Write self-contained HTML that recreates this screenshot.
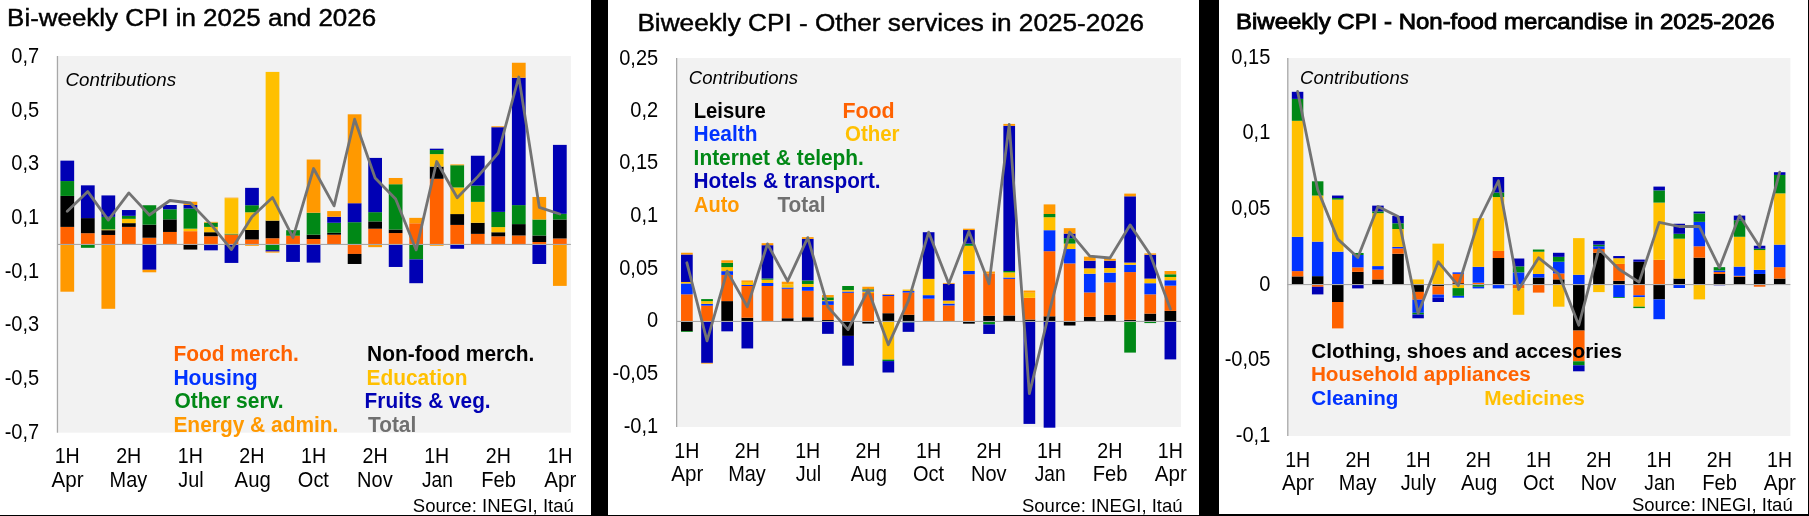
<!DOCTYPE html>
<html><head><meta charset="utf-8"><title>CPI charts</title>
<style>html,body{margin:0;padding:0;background:#fff;}svg{display:block;font-family:"Liberation Sans",sans-serif;}text{white-space:pre;}</style></head><body>
<svg width="1809" height="516" viewBox="0 0 1809 516">
<rect x="0" y="0" width="1809" height="516" fill="#fff"/>
<rect x="57" y="56" width="513.9" height="376.7" fill="#F2F2F2"/>
<rect x="676.1" y="58" width="504.9" height="369" fill="#F2F2F2"/>
<rect x="1287.1" y="58" width="503.3" height="378" fill="#F2F2F2"/>
<g>
<rect x="60.41" y="226.9" width="13.75" height="17.4" fill="#FF6200"/>
<rect x="60.41" y="195.92" width="13.75" height="30.98" fill="#000000"/>
<rect x="60.41" y="181.06" width="13.75" height="14.86" fill="#008816"/>
<rect x="60.41" y="160.65" width="13.75" height="20.4" fill="#0000B4"/>
<rect x="60.41" y="244.3" width="13.75" height="47.4" fill="#FF9900"/>
<rect x="80.93" y="233.2" width="13.75" height="11.1" fill="#FF6200"/>
<rect x="80.93" y="218.09" width="13.75" height="15.11" fill="#000000"/>
<rect x="80.93" y="185.34" width="13.75" height="32.75" fill="#0000B4"/>
<rect x="80.93" y="244.3" width="13.75" height="3.51" fill="#008816"/>
<rect x="101.45" y="234.96" width="13.75" height="9.34" fill="#FF6200"/>
<rect x="101.45" y="230.18" width="13.75" height="4.79" fill="#000000"/>
<rect x="101.45" y="229.42" width="13.75" height="0.76" fill="#FFC000"/>
<rect x="101.45" y="216.83" width="13.75" height="12.59" fill="#008816"/>
<rect x="101.45" y="195.42" width="13.75" height="21.41" fill="#0000B4"/>
<rect x="101.45" y="244.3" width="13.75" height="64.5" fill="#FF9900"/>
<rect x="121.97" y="226.9" width="13.75" height="17.4" fill="#FF6200"/>
<rect x="121.97" y="223.12" width="13.75" height="3.78" fill="#000000"/>
<rect x="121.97" y="218.84" width="13.75" height="4.28" fill="#FFC000"/>
<rect x="121.97" y="215.82" width="13.75" height="3.02" fill="#008816"/>
<rect x="121.97" y="210.03" width="13.75" height="5.79" fill="#0000B4"/>
<rect x="142.5" y="237.73" width="13.75" height="6.57" fill="#FF6200"/>
<rect x="142.5" y="224.63" width="13.75" height="13.1" fill="#000000"/>
<rect x="142.5" y="205.24" width="13.75" height="19.4" fill="#008816"/>
<rect x="142.5" y="244.3" width="13.75" height="25.5" fill="#0000B4"/>
<rect x="142.5" y="269.8" width="13.75" height="2.5" fill="#FF9900"/>
<rect x="163.02" y="231.94" width="13.75" height="12.36" fill="#FF6200"/>
<rect x="163.02" y="219.35" width="13.75" height="12.59" fill="#000000"/>
<rect x="163.02" y="209.27" width="13.75" height="10.08" fill="#008816"/>
<rect x="163.02" y="204.99" width="13.75" height="4.28" fill="#0000B4"/>
<rect x="183.54" y="231.18" width="13.75" height="13.12" fill="#FF6200"/>
<rect x="183.54" y="228.66" width="13.75" height="2.52" fill="#FFC000"/>
<rect x="183.54" y="208.51" width="13.75" height="20.15" fill="#008816"/>
<rect x="183.54" y="204.99" width="13.75" height="3.53" fill="#0000B4"/>
<rect x="183.54" y="201.71" width="13.75" height="3.27" fill="#FF9900"/>
<rect x="183.54" y="244.3" width="13.75" height="5.27" fill="#000000"/>
<rect x="204.07" y="236.22" width="13.75" height="8.08" fill="#FF6200"/>
<rect x="204.07" y="232.19" width="13.75" height="4.03" fill="#000000"/>
<rect x="204.07" y="226.9" width="13.75" height="5.29" fill="#FFC000"/>
<rect x="204.07" y="222.62" width="13.75" height="4.28" fill="#008816"/>
<rect x="204.07" y="221.86" width="13.75" height="0.76" fill="#FF9900"/>
<rect x="204.07" y="244.3" width="13.75" height="6.03" fill="#0000B4"/>
<rect x="224.59" y="234.46" width="13.75" height="9.84" fill="#FF6200"/>
<rect x="224.59" y="233.7" width="13.75" height="0.76" fill="#008816"/>
<rect x="224.59" y="198.19" width="13.75" height="35.52" fill="#FFC000"/>
<rect x="224.59" y="197.68" width="13.75" height="0.5" fill="#FF9900"/>
<rect x="224.59" y="244.3" width="13.75" height="18.62" fill="#0000B4"/>
<rect x="245.11" y="239.5" width="13.75" height="4.8" fill="#FF6200"/>
<rect x="245.11" y="229.92" width="13.75" height="9.57" fill="#000000"/>
<rect x="245.11" y="212.29" width="13.75" height="17.63" fill="#FFC000"/>
<rect x="245.11" y="205.24" width="13.75" height="7.05" fill="#008816"/>
<rect x="245.11" y="187.86" width="13.75" height="17.38" fill="#0000B4"/>
<rect x="245.11" y="244.3" width="13.75" height="1.49" fill="#FF9900"/>
<rect x="265.63" y="238.24" width="13.75" height="6.06" fill="#FF6200"/>
<rect x="265.63" y="220.6" width="13.75" height="17.63" fill="#000000"/>
<rect x="265.63" y="71.9" width="13.75" height="148.7" fill="#FFC000"/>
<rect x="265.63" y="244.3" width="13.75" height="5.78" fill="#008816"/>
<rect x="265.63" y="250.08" width="13.75" height="1.51" fill="#0000B4"/>
<rect x="265.63" y="251.59" width="13.75" height="1.01" fill="#FF9900"/>
<rect x="286.16" y="235.72" width="13.75" height="8.58" fill="#FF6200"/>
<rect x="286.16" y="230.18" width="13.75" height="5.54" fill="#008816"/>
<rect x="286.16" y="244.3" width="13.75" height="17.61" fill="#0000B4"/>
<rect x="306.68" y="239.02" width="13.75" height="5.28" fill="#FF6200"/>
<rect x="306.68" y="234.68" width="13.75" height="4.34" fill="#000000"/>
<rect x="306.68" y="212.71" width="13.75" height="21.98" fill="#008816"/>
<rect x="306.68" y="159.53" width="13.75" height="53.17" fill="#FF9900"/>
<rect x="306.68" y="244.3" width="13.75" height="18.33" fill="#0000B4"/>
<rect x="327.2" y="234.68" width="13.75" height="9.62" fill="#FF6200"/>
<rect x="327.2" y="232.78" width="13.75" height="1.9" fill="#000000"/>
<rect x="327.2" y="222.75" width="13.75" height="10.04" fill="#008816"/>
<rect x="327.2" y="216.78" width="13.75" height="5.97" fill="#0000B4"/>
<rect x="327.2" y="211.08" width="13.75" height="5.7" fill="#FF9900"/>
<rect x="347.73" y="222.2" width="13.75" height="22.1" fill="#008816"/>
<rect x="347.73" y="203.21" width="13.75" height="18.99" fill="#0000B4"/>
<rect x="347.73" y="114.3" width="13.75" height="88.91" fill="#FF9900"/>
<rect x="347.73" y="244.3" width="13.75" height="9.64" fill="#FF6200"/>
<rect x="347.73" y="253.94" width="13.75" height="10.04" fill="#000000"/>
<rect x="368.25" y="228.71" width="13.75" height="15.59" fill="#FF6200"/>
<rect x="368.25" y="221.39" width="13.75" height="7.33" fill="#000000"/>
<rect x="368.25" y="212.16" width="13.75" height="9.22" fill="#008816"/>
<rect x="368.25" y="157.91" width="13.75" height="54.26" fill="#0000B4"/>
<rect x="368.25" y="244.3" width="13.75" height="2.86" fill="#FF9900"/>
<rect x="388.77" y="233.05" width="13.75" height="11.25" fill="#FF6200"/>
<rect x="388.77" y="229.53" width="13.75" height="3.53" fill="#000000"/>
<rect x="388.77" y="184.22" width="13.75" height="45.31" fill="#008816"/>
<rect x="388.77" y="177.98" width="13.75" height="6.24" fill="#FF9900"/>
<rect x="388.77" y="244.3" width="13.75" height="22.67" fill="#0000B4"/>
<rect x="409.3" y="223.29" width="13.75" height="21.01" fill="#FF6200"/>
<rect x="409.3" y="217.86" width="13.75" height="5.43" fill="#FF9900"/>
<rect x="409.3" y="244.3" width="13.75" height="15.07" fill="#008816"/>
<rect x="409.3" y="259.37" width="13.75" height="23.83" fill="#0000B4"/>
<rect x="429.82" y="178.8" width="13.75" height="65.5" fill="#FF6200"/>
<rect x="429.82" y="166.59" width="13.75" height="12.21" fill="#000000"/>
<rect x="429.82" y="154.11" width="13.75" height="12.48" fill="#FFC000"/>
<rect x="429.82" y="150.04" width="13.75" height="4.07" fill="#008816"/>
<rect x="429.82" y="148.68" width="13.75" height="1.36" fill="#0000B4"/>
<rect x="429.82" y="244.3" width="13.75" height="1.51" fill="#FF9900"/>
<rect x="450.34" y="224.92" width="13.75" height="19.38" fill="#FF6200"/>
<rect x="450.34" y="214.06" width="13.75" height="10.85" fill="#000000"/>
<rect x="450.34" y="187.48" width="13.75" height="26.59" fill="#FFC000"/>
<rect x="450.34" y="165.23" width="13.75" height="22.25" fill="#008816"/>
<rect x="450.34" y="164.42" width="13.75" height="0.81" fill="#FF9900"/>
<rect x="450.34" y="244.3" width="13.75" height="4.49" fill="#0000B4"/>
<rect x="470.87" y="233.87" width="13.75" height="10.43" fill="#FF6200"/>
<rect x="470.87" y="222.75" width="13.75" height="11.12" fill="#000000"/>
<rect x="470.87" y="201.86" width="13.75" height="20.89" fill="#FFC000"/>
<rect x="470.87" y="185.58" width="13.75" height="16.28" fill="#008816"/>
<rect x="470.87" y="155.74" width="13.75" height="29.84" fill="#0000B4"/>
<rect x="491.39" y="236.31" width="13.75" height="7.99" fill="#FF6200"/>
<rect x="491.39" y="232.24" width="13.75" height="4.07" fill="#000000"/>
<rect x="491.39" y="227.09" width="13.75" height="5.15" fill="#FFC000"/>
<rect x="491.39" y="211.89" width="13.75" height="15.19" fill="#008816"/>
<rect x="491.39" y="127.2" width="13.75" height="84.69" fill="#0000B4"/>
<rect x="491.39" y="126.3" width="13.75" height="0.9" fill="#FF9900"/>
<rect x="511.91" y="235.5" width="13.75" height="8.8" fill="#FF6200"/>
<rect x="511.91" y="224.1" width="13.75" height="11.39" fill="#000000"/>
<rect x="511.91" y="205.11" width="13.75" height="18.99" fill="#008816"/>
<rect x="511.91" y="77.7" width="13.75" height="127.41" fill="#0000B4"/>
<rect x="511.91" y="62.75" width="13.75" height="14.95" fill="#FF9900"/>
<rect x="532.43" y="242.01" width="13.75" height="2.29" fill="#FF6200"/>
<rect x="532.43" y="235.5" width="13.75" height="6.51" fill="#000000"/>
<rect x="532.43" y="219.49" width="13.75" height="16.01" fill="#008816"/>
<rect x="532.43" y="196.97" width="13.75" height="22.52" fill="#FF9900"/>
<rect x="532.43" y="244.3" width="13.75" height="19.68" fill="#0000B4"/>
<rect x="552.96" y="238.48" width="13.75" height="5.82" fill="#FF6200"/>
<rect x="552.96" y="219.49" width="13.75" height="18.99" fill="#000000"/>
<rect x="552.96" y="213.79" width="13.75" height="5.7" fill="#008816"/>
<rect x="552.96" y="144.88" width="13.75" height="68.91" fill="#0000B4"/>
<rect x="552.96" y="244.3" width="13.75" height="41.6" fill="#FF9900"/>
</g>
<rect x="57" y="243.9" width="513.9" height="1.1" fill="#A8A8A8"/>
<rect x="56.8" y="56" width="1.3" height="376.7" fill="#A8A8A8"/>
<polyline points="67.28,211.3 87.8,191.6 108.33,220.1 128.85,192.9 149.37,215 169.89,200.5 190.42,203 210.94,224.4 231.46,249.6 251.99,216.8 272.51,197.4 293.03,237.7 313.56,168.5 334.08,205.9 354.6,119.2 375.12,178 395.65,199.1 416.17,249.9 436.69,161.5 457.22,197.8 477.74,176.6 498.26,153 518.79,77 539.31,207.3 559.83,214" fill="none" stroke="#737373" stroke-width="2.8" stroke-linejoin="round" stroke-linecap="round"/>
<g>
<rect x="681.03" y="294.31" width="11.7" height="26.99" fill="#FF6200"/>
<rect x="681.03" y="283.48" width="11.7" height="10.83" fill="#0033FF"/>
<rect x="681.03" y="281.96" width="11.7" height="1.51" fill="#FFC000"/>
<rect x="681.03" y="254.51" width="11.7" height="27.46" fill="#0000B4"/>
<rect x="681.03" y="252.75" width="11.7" height="1.76" fill="#FF9900"/>
<rect x="681.03" y="321.3" width="11.7" height="9.9" fill="#000000"/>
<rect x="681.03" y="331.2" width="11.7" height="0.8" fill="#008816"/>
<rect x="701.18" y="305.64" width="11.7" height="15.66" fill="#FF6200"/>
<rect x="701.18" y="303.88" width="11.7" height="1.76" fill="#0033FF"/>
<rect x="701.18" y="301.11" width="11.7" height="2.77" fill="#FFC000"/>
<rect x="701.18" y="299.09" width="11.7" height="2.02" fill="#008816"/>
<rect x="701.18" y="321.3" width="11.7" height="41.6" fill="#0000B4"/>
<rect x="701.18" y="362.9" width="11.7" height="0.7" fill="#FF9900"/>
<rect x="721.32" y="301.11" width="11.7" height="20.19" fill="#000000"/>
<rect x="721.32" y="274.91" width="11.7" height="26.2" fill="#FF6200"/>
<rect x="721.32" y="271.13" width="11.7" height="3.78" fill="#0033FF"/>
<rect x="721.32" y="267.1" width="11.7" height="4.03" fill="#FFC000"/>
<rect x="721.32" y="262.82" width="11.7" height="4.28" fill="#008816"/>
<rect x="721.32" y="260.3" width="11.7" height="2.52" fill="#FF9900"/>
<rect x="721.32" y="321.3" width="11.7" height="10.04" fill="#0000B4"/>
<rect x="741.47" y="317.73" width="11.7" height="3.57" fill="#000000"/>
<rect x="741.47" y="285.99" width="11.7" height="31.74" fill="#FF6200"/>
<rect x="741.47" y="284.99" width="11.7" height="1.01" fill="#0033FF"/>
<rect x="741.47" y="281.96" width="11.7" height="3.02" fill="#FFC000"/>
<rect x="741.47" y="280.45" width="11.7" height="1.51" fill="#FF9900"/>
<rect x="741.47" y="321.3" width="11.7" height="27.16" fill="#0000B4"/>
<rect x="761.61" y="285.99" width="11.7" height="35.31" fill="#FF6200"/>
<rect x="761.61" y="282.97" width="11.7" height="3.02" fill="#0033FF"/>
<rect x="761.61" y="279.7" width="11.7" height="3.27" fill="#FFC000"/>
<rect x="761.61" y="278.44" width="11.7" height="1.26" fill="#008816"/>
<rect x="761.61" y="245.19" width="11.7" height="33.25" fill="#0000B4"/>
<rect x="761.61" y="243.17" width="11.7" height="2.02" fill="#FF9900"/>
<rect x="781.76" y="318.24" width="11.7" height="3.06" fill="#000000"/>
<rect x="781.76" y="288.77" width="11.7" height="29.47" fill="#FF6200"/>
<rect x="781.76" y="287.51" width="11.7" height="1.26" fill="#0033FF"/>
<rect x="781.76" y="284.23" width="11.7" height="3.27" fill="#FFC000"/>
<rect x="781.76" y="281.71" width="11.7" height="2.52" fill="#FF9900"/>
<rect x="801.91" y="317.23" width="11.7" height="4.07" fill="#000000"/>
<rect x="801.91" y="290.78" width="11.7" height="26.45" fill="#FF6200"/>
<rect x="801.91" y="287" width="11.7" height="3.78" fill="#0033FF"/>
<rect x="801.91" y="283.98" width="11.7" height="3.02" fill="#FFC000"/>
<rect x="801.91" y="280.45" width="11.7" height="3.53" fill="#008816"/>
<rect x="801.91" y="238.89" width="11.7" height="41.56" fill="#0000B4"/>
<rect x="801.91" y="237.13" width="11.7" height="1.76" fill="#FF9900"/>
<rect x="822.05" y="320" width="11.7" height="1.3" fill="#000000"/>
<rect x="822.05" y="304.89" width="11.7" height="15.11" fill="#FF6200"/>
<rect x="822.05" y="301.11" width="11.7" height="3.78" fill="#0033FF"/>
<rect x="822.05" y="300.1" width="11.7" height="1.01" fill="#FFC000"/>
<rect x="822.05" y="297.33" width="11.7" height="2.77" fill="#008816"/>
<rect x="822.05" y="295.06" width="11.7" height="2.27" fill="#FF9900"/>
<rect x="822.05" y="321.3" width="11.7" height="12.55" fill="#0000B4"/>
<rect x="842.2" y="292.8" width="11.7" height="28.5" fill="#FF6200"/>
<rect x="842.2" y="291.54" width="11.7" height="1.26" fill="#0033FF"/>
<rect x="842.2" y="290.03" width="11.7" height="1.51" fill="#FFC000"/>
<rect x="842.2" y="285.99" width="11.7" height="4.03" fill="#008816"/>
<rect x="842.2" y="321.3" width="11.7" height="14.6" fill="#000000"/>
<rect x="842.2" y="335.9" width="11.7" height="29.8" fill="#0000B4"/>
<rect x="862.34" y="293.05" width="11.7" height="28.25" fill="#FF6200"/>
<rect x="862.34" y="291.54" width="11.7" height="1.51" fill="#FFC000"/>
<rect x="862.34" y="290.53" width="11.7" height="1.01" fill="#0033FF"/>
<rect x="862.34" y="289.27" width="11.7" height="1.26" fill="#008816"/>
<rect x="862.34" y="286.75" width="11.7" height="2.52" fill="#FF9900"/>
<rect x="862.34" y="321.3" width="11.7" height="2.23" fill="#000000"/>
<rect x="882.49" y="313.2" width="11.7" height="8.1" fill="#000000"/>
<rect x="882.49" y="296.07" width="11.7" height="17.13" fill="#FF6200"/>
<rect x="882.49" y="294.81" width="11.7" height="1.26" fill="#0033FF"/>
<rect x="882.49" y="294.06" width="11.7" height="0.76" fill="#FF9900"/>
<rect x="882.49" y="321.3" width="11.7" height="38.3" fill="#FFC000"/>
<rect x="882.49" y="359.6" width="11.7" height="1.5" fill="#008816"/>
<rect x="882.49" y="361.1" width="11.7" height="11.4" fill="#0000B4"/>
<rect x="902.64" y="314.71" width="11.7" height="6.59" fill="#000000"/>
<rect x="902.64" y="292.54" width="11.7" height="22.17" fill="#FF6200"/>
<rect x="902.64" y="291.03" width="11.7" height="1.51" fill="#0033FF"/>
<rect x="902.64" y="289.52" width="11.7" height="1.51" fill="#FFC000"/>
<rect x="902.64" y="321.3" width="11.7" height="1.22" fill="#008816"/>
<rect x="902.64" y="322.52" width="11.7" height="9.32" fill="#0000B4"/>
<rect x="922.78" y="298.68" width="11.7" height="22.62" fill="#FF6200"/>
<rect x="922.78" y="295.15" width="11.7" height="3.53" fill="#0033FF"/>
<rect x="922.78" y="278.87" width="11.7" height="16.28" fill="#FFC000"/>
<rect x="922.78" y="232.21" width="11.7" height="46.66" fill="#0000B4"/>
<rect x="942.93" y="305.46" width="11.7" height="15.84" fill="#FF6200"/>
<rect x="942.93" y="303.56" width="11.7" height="1.9" fill="#0033FF"/>
<rect x="942.93" y="300.58" width="11.7" height="2.98" fill="#FFC000"/>
<rect x="942.93" y="283.75" width="11.7" height="16.82" fill="#0000B4"/>
<rect x="942.93" y="282.94" width="11.7" height="0.81" fill="#FF9900"/>
<rect x="963.07" y="274.26" width="11.7" height="47.04" fill="#FF6200"/>
<rect x="963.07" y="271" width="11.7" height="3.26" fill="#0033FF"/>
<rect x="963.07" y="245.77" width="11.7" height="25.23" fill="#FFC000"/>
<rect x="963.07" y="243.6" width="11.7" height="2.17" fill="#008816"/>
<rect x="963.07" y="230.04" width="11.7" height="13.56" fill="#0000B4"/>
<rect x="963.07" y="228.68" width="11.7" height="1.36" fill="#FF9900"/>
<rect x="963.07" y="321.3" width="11.7" height="2.34" fill="#000000"/>
<rect x="983.22" y="315.77" width="11.7" height="5.53" fill="#000000"/>
<rect x="983.22" y="273.45" width="11.7" height="42.32" fill="#FF6200"/>
<rect x="983.22" y="271.55" width="11.7" height="1.9" fill="#FF9900"/>
<rect x="983.22" y="321.3" width="11.7" height="3.15" fill="#008816"/>
<rect x="983.22" y="324.45" width="11.7" height="9.5" fill="#0000B4"/>
<rect x="1003.37" y="315.5" width="11.7" height="5.8" fill="#000000"/>
<rect x="1003.37" y="278.87" width="11.7" height="36.63" fill="#FF6200"/>
<rect x="1003.37" y="277.51" width="11.7" height="1.36" fill="#0033FF"/>
<rect x="1003.37" y="272.36" width="11.7" height="5.15" fill="#FFC000"/>
<rect x="1003.37" y="271" width="11.7" height="1.36" fill="#008816"/>
<rect x="1003.37" y="125.8" width="11.7" height="145.2" fill="#0000B4"/>
<rect x="1003.37" y="123.9" width="11.7" height="1.9" fill="#FF9900"/>
<rect x="1023.51" y="319.57" width="11.7" height="1.73" fill="#000000"/>
<rect x="1023.51" y="297.86" width="11.7" height="21.7" fill="#FF6200"/>
<rect x="1023.51" y="292.71" width="11.7" height="5.15" fill="#FFC000"/>
<rect x="1023.51" y="290.54" width="11.7" height="2.17" fill="#FF9900"/>
<rect x="1023.51" y="321.3" width="11.7" height="102.6" fill="#0000B4"/>
<rect x="1043.66" y="316.31" width="11.7" height="4.99" fill="#000000"/>
<rect x="1043.66" y="251.2" width="11.7" height="65.11" fill="#FF6200"/>
<rect x="1043.66" y="230.2" width="11.7" height="21" fill="#0033FF"/>
<rect x="1043.66" y="217.2" width="11.7" height="13" fill="#FFC000"/>
<rect x="1043.66" y="214" width="11.7" height="3.2" fill="#008816"/>
<rect x="1043.66" y="204.4" width="11.7" height="9.6" fill="#FF9900"/>
<rect x="1043.66" y="321.3" width="11.7" height="106.4" fill="#0000B4"/>
<rect x="1063.8" y="263.41" width="11.7" height="57.89" fill="#FF6200"/>
<rect x="1063.8" y="249.03" width="11.7" height="14.38" fill="#0033FF"/>
<rect x="1063.8" y="243.6" width="11.7" height="5.43" fill="#FFC000"/>
<rect x="1063.8" y="238.18" width="11.7" height="5.43" fill="#008816"/>
<rect x="1063.8" y="233.56" width="11.7" height="4.61" fill="#0000B4"/>
<rect x="1063.8" y="228.14" width="11.7" height="5.43" fill="#FF9900"/>
<rect x="1063.8" y="321.3" width="11.7" height="4.23" fill="#000000"/>
<rect x="1083.95" y="316.85" width="11.7" height="4.45" fill="#000000"/>
<rect x="1083.95" y="292.44" width="11.7" height="24.42" fill="#FF6200"/>
<rect x="1083.95" y="273.72" width="11.7" height="18.72" fill="#0033FF"/>
<rect x="1083.95" y="268.29" width="11.7" height="5.43" fill="#FFC000"/>
<rect x="1083.95" y="260.69" width="11.7" height="7.6" fill="#0000B4"/>
<rect x="1083.95" y="256.63" width="11.7" height="4.07" fill="#FF9900"/>
<rect x="1104.1" y="314.95" width="11.7" height="6.35" fill="#000000"/>
<rect x="1104.1" y="282.4" width="11.7" height="32.56" fill="#FF6200"/>
<rect x="1104.1" y="272.63" width="11.7" height="9.77" fill="#0033FF"/>
<rect x="1104.1" y="268.02" width="11.7" height="4.61" fill="#FFC000"/>
<rect x="1104.1" y="260.69" width="11.7" height="7.33" fill="#0000B4"/>
<rect x="1104.1" y="258.8" width="11.7" height="1.9" fill="#FF9900"/>
<rect x="1124.24" y="319.84" width="11.7" height="1.46" fill="#000000"/>
<rect x="1124.24" y="272.09" width="11.7" height="47.75" fill="#FF6200"/>
<rect x="1124.24" y="264.76" width="11.7" height="7.33" fill="#0033FF"/>
<rect x="1124.24" y="262.59" width="11.7" height="2.17" fill="#FFC000"/>
<rect x="1124.24" y="196.3" width="11.7" height="66.29" fill="#0000B4"/>
<rect x="1124.24" y="193.6" width="11.7" height="2.7" fill="#FF9900"/>
<rect x="1124.24" y="321.3" width="11.7" height="31.3" fill="#008816"/>
<rect x="1144.39" y="313.6" width="11.7" height="7.7" fill="#000000"/>
<rect x="1144.39" y="294.34" width="11.7" height="19.26" fill="#FF6200"/>
<rect x="1144.39" y="283.21" width="11.7" height="11.12" fill="#0033FF"/>
<rect x="1144.39" y="278.6" width="11.7" height="4.61" fill="#FFC000"/>
<rect x="1144.39" y="254.73" width="11.7" height="23.87" fill="#0000B4"/>
<rect x="1144.39" y="253.37" width="11.7" height="1.36" fill="#FF9900"/>
<rect x="1144.39" y="321.3" width="11.7" height="1.79" fill="#008816"/>
<rect x="1164.53" y="310.88" width="11.7" height="10.42" fill="#000000"/>
<rect x="1164.53" y="285.65" width="11.7" height="25.23" fill="#FF6200"/>
<rect x="1164.53" y="280.23" width="11.7" height="5.43" fill="#0033FF"/>
<rect x="1164.53" y="276.97" width="11.7" height="3.26" fill="#FFC000"/>
<rect x="1164.53" y="274.26" width="11.7" height="2.71" fill="#008816"/>
<rect x="1164.53" y="271" width="11.7" height="3.26" fill="#FF9900"/>
<rect x="1164.53" y="321.3" width="11.7" height="38.1" fill="#0000B4"/>
</g>
<rect x="676.1" y="320.9" width="504.9" height="1.1" fill="#A8A8A8"/>
<rect x="676" y="58" width="1.3" height="369" fill="#A8A8A8"/>
<polyline points="686.88,262.8 707.03,340.9 727.17,271.1 747.32,306.9 767.46,243.9 787.61,281.2 807.76,237.6 827.9,306.9 848.05,329.6 868.19,290 888.34,344.7 908.49,300.6 928.63,232.2 948.78,283.8 968.92,231.4 989.07,283.8 1009.22,124.4 1029.36,393.6 1049.51,311 1069.65,232.2 1089.8,256.1 1109.95,258 1130.09,224.9 1150.24,254.7 1170.38,309" fill="none" stroke="#737373" stroke-width="2.8" stroke-linejoin="round" stroke-linecap="round"/>
<g>
<rect x="1291.83" y="276.4" width="11.5" height="8" fill="#000000"/>
<rect x="1291.83" y="271.11" width="11.5" height="5.29" fill="#FF6200"/>
<rect x="1291.83" y="236.85" width="11.5" height="34.26" fill="#0033FF"/>
<rect x="1291.83" y="120.8" width="11.5" height="116.05" fill="#FFC000"/>
<rect x="1291.83" y="98.9" width="11.5" height="21.9" fill="#008816"/>
<rect x="1291.83" y="91.8" width="11.5" height="7.1" fill="#0000B4"/>
<rect x="1311.92" y="276.15" width="11.5" height="8.25" fill="#000000"/>
<rect x="1311.92" y="241.64" width="11.5" height="34.51" fill="#0033FF"/>
<rect x="1311.92" y="195.54" width="11.5" height="46.1" fill="#FFC000"/>
<rect x="1311.92" y="181.3" width="11.5" height="14.24" fill="#008816"/>
<rect x="1311.92" y="284.4" width="11.5" height="2.4" fill="#FF6200"/>
<rect x="1311.92" y="286.8" width="11.5" height="7.6" fill="#0000B4"/>
<rect x="1332.01" y="251.71" width="11.5" height="32.69" fill="#0033FF"/>
<rect x="1332.01" y="199.57" width="11.5" height="52.14" fill="#FFC000"/>
<rect x="1332.01" y="198.06" width="11.5" height="1.51" fill="#008816"/>
<rect x="1332.01" y="195.54" width="11.5" height="2.52" fill="#0000B4"/>
<rect x="1332.01" y="284.4" width="11.5" height="17.6" fill="#000000"/>
<rect x="1332.01" y="302" width="11.5" height="26.4" fill="#FF6200"/>
<rect x="1352.09" y="271.86" width="11.5" height="12.54" fill="#000000"/>
<rect x="1352.09" y="267.33" width="11.5" height="4.53" fill="#FF6200"/>
<rect x="1352.09" y="254.99" width="11.5" height="12.34" fill="#0033FF"/>
<rect x="1352.09" y="252.97" width="11.5" height="2.02" fill="#008816"/>
<rect x="1352.09" y="284.4" width="11.5" height="4" fill="#0000B4"/>
<rect x="1372.18" y="279.42" width="11.5" height="4.98" fill="#000000"/>
<rect x="1372.18" y="269.6" width="11.5" height="9.82" fill="#FF6200"/>
<rect x="1372.18" y="266.07" width="11.5" height="3.53" fill="#0033FF"/>
<rect x="1372.18" y="213.17" width="11.5" height="52.9" fill="#FFC000"/>
<rect x="1372.18" y="211.41" width="11.5" height="1.76" fill="#008816"/>
<rect x="1372.18" y="205.62" width="11.5" height="5.79" fill="#0000B4"/>
<rect x="1392.27" y="253.73" width="11.5" height="30.67" fill="#000000"/>
<rect x="1392.27" y="248.44" width="11.5" height="5.29" fill="#FF6200"/>
<rect x="1392.27" y="246.93" width="11.5" height="1.51" fill="#0033FF"/>
<rect x="1392.27" y="229.04" width="11.5" height="17.88" fill="#FFC000"/>
<rect x="1392.27" y="223.25" width="11.5" height="5.79" fill="#008816"/>
<rect x="1392.27" y="215.94" width="11.5" height="7.3" fill="#0000B4"/>
<rect x="1412.36" y="279.42" width="11.5" height="4.98" fill="#FFC000"/>
<rect x="1412.36" y="284.4" width="11.5" height="7.5" fill="#000000"/>
<rect x="1412.36" y="291.9" width="11.5" height="7.8" fill="#FF6200"/>
<rect x="1412.36" y="299.7" width="11.5" height="13.1" fill="#0033FF"/>
<rect x="1412.36" y="312.8" width="11.5" height="1.7" fill="#008816"/>
<rect x="1412.36" y="314.5" width="11.5" height="3.8" fill="#0000B4"/>
<rect x="1432.45" y="243.65" width="11.5" height="40.75" fill="#FFC000"/>
<rect x="1432.45" y="284.4" width="11.5" height="1.9" fill="#000000"/>
<rect x="1432.45" y="286.3" width="11.5" height="8.3" fill="#FF6200"/>
<rect x="1432.45" y="294.6" width="11.5" height="3.1" fill="#0033FF"/>
<rect x="1432.45" y="297.7" width="11.5" height="4.3" fill="#0000B4"/>
<rect x="1452.53" y="283.2" width="11.5" height="1.2" fill="#000000"/>
<rect x="1452.53" y="273.88" width="11.5" height="9.32" fill="#FF6200"/>
<rect x="1452.53" y="272.37" width="11.5" height="1.51" fill="#0033FF"/>
<rect x="1452.53" y="284.4" width="11.5" height="3.7" fill="#FFC000"/>
<rect x="1452.53" y="288.1" width="11.5" height="7.8" fill="#008816"/>
<rect x="1452.53" y="295.9" width="11.5" height="1.8" fill="#0033FF"/>
<rect x="1472.62" y="282.7" width="11.5" height="1.7" fill="#FF6200"/>
<rect x="1472.62" y="266.83" width="11.5" height="15.87" fill="#0033FF"/>
<rect x="1472.62" y="218.21" width="11.5" height="48.61" fill="#FFC000"/>
<rect x="1472.62" y="284.4" width="11.5" height="2.4" fill="#008816"/>
<rect x="1472.62" y="286.8" width="11.5" height="1.6" fill="#0033FF"/>
<rect x="1492.71" y="258.01" width="11.5" height="26.39" fill="#000000"/>
<rect x="1492.71" y="250.96" width="11.5" height="7.05" fill="#FF6200"/>
<rect x="1492.71" y="197.05" width="11.5" height="53.9" fill="#FFC000"/>
<rect x="1492.71" y="192.52" width="11.5" height="4.53" fill="#008816"/>
<rect x="1492.71" y="177" width="11.5" height="15.52" fill="#0000B4"/>
<rect x="1492.71" y="284.4" width="11.5" height="4" fill="#0033FF"/>
<rect x="1512.8" y="272.37" width="11.5" height="12.03" fill="#0033FF"/>
<rect x="1512.8" y="266.32" width="11.5" height="6.05" fill="#008816"/>
<rect x="1512.8" y="258.51" width="11.5" height="7.81" fill="#0000B4"/>
<rect x="1512.8" y="284.4" width="11.5" height="3.7" fill="#FF6200"/>
<rect x="1512.8" y="288.1" width="11.5" height="26.7" fill="#FFC000"/>
<rect x="1532.89" y="277.47" width="11.5" height="6.93" fill="#000000"/>
<rect x="1532.89" y="273.94" width="11.5" height="3.53" fill="#0033FF"/>
<rect x="1532.89" y="251.7" width="11.5" height="22.25" fill="#FFC000"/>
<rect x="1532.89" y="249.53" width="11.5" height="2.17" fill="#008816"/>
<rect x="1532.89" y="284.4" width="11.5" height="8.2" fill="#FF6200"/>
<rect x="1552.97" y="279.37" width="11.5" height="5.03" fill="#000000"/>
<rect x="1552.97" y="273.4" width="11.5" height="5.97" fill="#FF6200"/>
<rect x="1552.97" y="261.74" width="11.5" height="11.67" fill="#0033FF"/>
<rect x="1552.97" y="256.85" width="11.5" height="4.88" fill="#008816"/>
<rect x="1552.97" y="252.78" width="11.5" height="4.07" fill="#0000B4"/>
<rect x="1552.97" y="284.4" width="11.5" height="22.3" fill="#FFC000"/>
<rect x="1573.06" y="274.76" width="11.5" height="9.64" fill="#0033FF"/>
<rect x="1573.06" y="238.13" width="11.5" height="36.63" fill="#FFC000"/>
<rect x="1573.06" y="284.4" width="11.5" height="46.2" fill="#000000"/>
<rect x="1573.06" y="330.6" width="11.5" height="30.7" fill="#FF6200"/>
<rect x="1573.06" y="361.3" width="11.5" height="4" fill="#008816"/>
<rect x="1573.06" y="365.3" width="11.5" height="6" fill="#0000B4"/>
<rect x="1593.15" y="252.78" width="11.5" height="31.62" fill="#000000"/>
<rect x="1593.15" y="248.99" width="11.5" height="3.8" fill="#FF6200"/>
<rect x="1593.15" y="246.27" width="11.5" height="2.71" fill="#0033FF"/>
<rect x="1593.15" y="244.64" width="11.5" height="1.63" fill="#008816"/>
<rect x="1593.15" y="240.85" width="11.5" height="3.8" fill="#0000B4"/>
<rect x="1593.15" y="284.4" width="11.5" height="7.7" fill="#FFC000"/>
<rect x="1613.24" y="280.73" width="11.5" height="3.67" fill="#000000"/>
<rect x="1613.24" y="263.91" width="11.5" height="16.82" fill="#FF6200"/>
<rect x="1613.24" y="258.21" width="11.5" height="5.7" fill="#FFC000"/>
<rect x="1613.24" y="256.04" width="11.5" height="2.17" fill="#0000B4"/>
<rect x="1613.24" y="284.4" width="11.5" height="12.8" fill="#0033FF"/>
<rect x="1613.24" y="297.2" width="11.5" height="0.8" fill="#008816"/>
<rect x="1633.33" y="261.74" width="11.5" height="22.66" fill="#000000"/>
<rect x="1633.33" y="259.57" width="11.5" height="2.17" fill="#0000B4"/>
<rect x="1633.33" y="284.4" width="11.5" height="10.9" fill="#FF6200"/>
<rect x="1633.33" y="295.3" width="11.5" height="1.9" fill="#0033FF"/>
<rect x="1633.33" y="297.2" width="11.5" height="9.5" fill="#FFC000"/>
<rect x="1633.33" y="306.7" width="11.5" height="1.4" fill="#008816"/>
<rect x="1653.41" y="259.84" width="11.5" height="24.56" fill="#FF6200"/>
<rect x="1653.41" y="202.59" width="11.5" height="57.24" fill="#FFC000"/>
<rect x="1653.41" y="190.39" width="11.5" height="12.21" fill="#008816"/>
<rect x="1653.41" y="186.59" width="11.5" height="3.8" fill="#0000B4"/>
<rect x="1653.41" y="284.4" width="11.5" height="15" fill="#000000"/>
<rect x="1653.41" y="299.4" width="11.5" height="19.8" fill="#0033FF"/>
<rect x="1673.5" y="278.56" width="11.5" height="5.84" fill="#000000"/>
<rect x="1673.5" y="238.68" width="11.5" height="39.88" fill="#FFC000"/>
<rect x="1673.5" y="233.79" width="11.5" height="4.88" fill="#008816"/>
<rect x="1673.5" y="223.75" width="11.5" height="10.04" fill="#0000B4"/>
<rect x="1673.5" y="284.4" width="11.5" height="3.6" fill="#0033FF"/>
<rect x="1693.59" y="257.67" width="11.5" height="26.73" fill="#000000"/>
<rect x="1693.59" y="246.27" width="11.5" height="11.39" fill="#FF6200"/>
<rect x="1693.59" y="221.86" width="11.5" height="24.42" fill="#0033FF"/>
<rect x="1693.59" y="213.45" width="11.5" height="8.41" fill="#008816"/>
<rect x="1693.59" y="211.55" width="11.5" height="1.9" fill="#0000B4"/>
<rect x="1693.59" y="284.4" width="11.5" height="15" fill="#FFC000"/>
<rect x="1713.68" y="273.94" width="11.5" height="10.46" fill="#000000"/>
<rect x="1713.68" y="272.05" width="11.5" height="1.9" fill="#FF6200"/>
<rect x="1713.68" y="270.42" width="11.5" height="1.63" fill="#0033FF"/>
<rect x="1713.68" y="267.16" width="11.5" height="3.26" fill="#008816"/>
<rect x="1713.68" y="284.4" width="11.5" height="0.9" fill="#0000B4"/>
<rect x="1733.77" y="276.66" width="11.5" height="7.74" fill="#000000"/>
<rect x="1733.77" y="275.84" width="11.5" height="0.81" fill="#FF6200"/>
<rect x="1733.77" y="266.62" width="11.5" height="9.22" fill="#0033FF"/>
<rect x="1733.77" y="236.78" width="11.5" height="29.84" fill="#FFC000"/>
<rect x="1733.77" y="220.23" width="11.5" height="16.55" fill="#008816"/>
<rect x="1733.77" y="215.62" width="11.5" height="4.61" fill="#0000B4"/>
<rect x="1753.85" y="273.94" width="11.5" height="10.46" fill="#000000"/>
<rect x="1753.85" y="269.88" width="11.5" height="4.07" fill="#0033FF"/>
<rect x="1753.85" y="250.07" width="11.5" height="19.8" fill="#FFC000"/>
<rect x="1753.85" y="248.71" width="11.5" height="1.36" fill="#008816"/>
<rect x="1753.85" y="245.73" width="11.5" height="2.98" fill="#0000B4"/>
<rect x="1753.85" y="284.4" width="11.5" height="2.3" fill="#FF6200"/>
<rect x="1773.94" y="278.56" width="11.5" height="5.84" fill="#000000"/>
<rect x="1773.94" y="267.16" width="11.5" height="11.39" fill="#FF6200"/>
<rect x="1773.94" y="244.64" width="11.5" height="22.52" fill="#0033FF"/>
<rect x="1773.94" y="193.37" width="11.5" height="51.28" fill="#FFC000"/>
<rect x="1773.94" y="174.92" width="11.5" height="18.45" fill="#008816"/>
<rect x="1773.94" y="172.21" width="11.5" height="2.71" fill="#0000B4"/>
</g>
<rect x="1287.1" y="284" width="503.3" height="1.1" fill="#A8A8A8"/>
<rect x="1287.15" y="58" width="1.3" height="378" fill="#A8A8A8"/>
<polyline points="1297.58,91.3 1317.67,189.6 1337.76,239.1 1357.84,257.5 1377.93,206.4 1398.02,216.4 1418.11,313.4 1438.2,261.8 1458.28,285.7 1478.37,221.5 1498.46,180.8 1518.55,289.5 1538.64,257.8 1558.72,273.9 1578.81,325.2 1598.9,249 1618.99,269.3 1639.08,282.1 1659.16,222.4 1679.25,226.5 1699.34,226.5 1719.43,267.7 1739.52,215.6 1759.6,246.8 1779.69,172.2" fill="none" stroke="#737373" stroke-width="2.8" stroke-linejoin="round" stroke-linecap="round"/>
<rect x="591" y="0" width="17" height="516" fill="#000"/>
<rect x="1199" y="0" width="20" height="516" fill="#000"/>
<rect x="1808" y="0" width="1" height="516" fill="#000"/>
<rect x="0" y="515" width="1809" height="1" fill="#000"/>
<rect x="1199" y="514" width="610" height="2" fill="#000"/>
<g opacity="0.999">
<text transform="translate(7.09 25.5) scale(1.0550 1)" font-size="24.6" fill="#000" stroke="#000" stroke-width="0.45">Bi-weekly CPI in 2025 and 2026</text>
<text transform="translate(65.57 86.2) scale(1.0314 1)" font-size="18.2" fill="#000" font-style="italic">Contributions</text>
<text transform="translate(11.37 63.3) scale(0.9450 1)" font-size="21.2" fill="#000">0,7</text>
<text transform="translate(11.37 116.6) scale(0.9450 1)" font-size="21.2" fill="#000">0,5</text>
<text transform="translate(11.37 170.3) scale(0.9450 1)" font-size="21.2" fill="#000">0,3</text>
<text transform="translate(11.37 224) scale(0.9450 1)" font-size="21.2" fill="#000">0,1</text>
<text transform="translate(4.7 277.7) scale(0.9450 1)" font-size="21.2" fill="#000">-0,1</text>
<text transform="translate(4.7 331.4) scale(0.9450 1)" font-size="21.2" fill="#000">-0,3</text>
<text transform="translate(4.7 385.1) scale(0.9450 1)" font-size="21.2" fill="#000">-0,5</text>
<text transform="translate(4.7 438.8) scale(0.9450 1)" font-size="21.2" fill="#000">-0,7</text>
<text transform="translate(173.41 360.8) scale(0.9876 1)" font-size="21.2" fill="#FF6200" font-weight="bold">Food merch.</text>
<text transform="translate(173.4 384.8) scale(0.9952 1)" font-size="21.2" fill="#0033FF" font-weight="bold">Housing</text>
<text transform="translate(174.4 408.4) scale(0.9889 1)" font-size="21.2" fill="#008816" font-weight="bold">Other serv.</text>
<text transform="translate(173.41 431.8) scale(0.9873 1)" font-size="21.2" fill="#FF9900" font-weight="bold">Energy &amp; admin.</text>
<text transform="translate(367.11 360.8) scale(0.9869 1)" font-size="21.2" fill="#000" font-weight="bold">Non-food merch.</text>
<text transform="translate(366.62 384.8) scale(0.9844 1)" font-size="21.2" fill="#FFC000" font-weight="bold">Education</text>
<text transform="translate(364.62 408.4) scale(0.9815 1)" font-size="21.2" fill="#0000B4" font-weight="bold">Fruits &amp; veg.</text>
<text transform="translate(368 431.8) scale(0.9844 1)" font-size="21.2" fill="#707070" font-weight="bold">Total</text>
<text transform="translate(54.63 462.9) scale(0.9240 1)" font-size="21.2" fill="#000">1H</text>
<text transform="translate(51.5 486.9) scale(0.9722 1)" font-size="21.2" fill="#000">Apr</text>
<text transform="translate(116.17 462.9) scale(0.9280 1)" font-size="21.2" fill="#000">2H</text>
<text transform="translate(109.61 486.9) scale(0.9408 1)" font-size="21.2" fill="#000">May</text>
<text transform="translate(177.83 462.9) scale(0.9240 1)" font-size="21.2" fill="#000">1H</text>
<text transform="translate(178.35 486.9) scale(0.9364 1)" font-size="21.2" fill="#000">Jul</text>
<text transform="translate(239.37 462.9) scale(0.9280 1)" font-size="21.2" fill="#000">2H</text>
<text transform="translate(234.6 486.9) scale(0.9590 1)" font-size="21.2" fill="#000">Aug</text>
<text transform="translate(301.03 462.9) scale(0.9240 1)" font-size="21.2" fill="#000">1H</text>
<text transform="translate(297.86 486.9) scale(0.9416 1)" font-size="21.2" fill="#000">Oct</text>
<text transform="translate(362.57 462.9) scale(0.9280 1)" font-size="21.2" fill="#000">2H</text>
<text transform="translate(357.06 486.9) scale(0.9438 1)" font-size="21.2" fill="#000">Nov</text>
<text transform="translate(424.23 462.9) scale(0.9240 1)" font-size="21.2" fill="#000">1H</text>
<text transform="translate(422 486.9) scale(0.9048 1)" font-size="21.2" fill="#000">Jan</text>
<text transform="translate(485.77 462.9) scale(0.9280 1)" font-size="21.2" fill="#000">2H</text>
<text transform="translate(481.25 486.9) scale(0.9503 1)" font-size="21.2" fill="#000">Feb</text>
<text transform="translate(547.43 462.9) scale(0.9240 1)" font-size="21.2" fill="#000">1H</text>
<text transform="translate(544.3 486.9) scale(0.9722 1)" font-size="21.2" fill="#000">Apr</text>
<text transform="translate(412.8 511.5) scale(1.0049 1)" font-size="18.5" fill="#000">Source: INEGI, Itaú</text>
<text transform="translate(637.38 31.3) scale(1.0614 1)" font-size="24.7" fill="#000" stroke="#000" stroke-width="0.45">Biweekly CPI - Other services in 2025-2026</text>
<text transform="translate(688.78 83.6) scale(1.0201 1)" font-size="18.2" fill="#000" font-style="italic">Contributions</text>
<text transform="translate(619.23 65) scale(0.9450 1)" font-size="21.2" fill="#000">0,25</text>
<text transform="translate(630.37 116.84) scale(0.9450 1)" font-size="21.2" fill="#000">0,2</text>
<text transform="translate(619.23 169.48) scale(0.9450 1)" font-size="21.2" fill="#000">0,15</text>
<text transform="translate(630.37 222.12) scale(0.9450 1)" font-size="21.2" fill="#000">0,1</text>
<text transform="translate(619.23 274.76) scale(0.9450 1)" font-size="21.2" fill="#000">0,05</text>
<text transform="translate(647.06 327.4) scale(0.9450 1)" font-size="21.2" fill="#000">0</text>
<text transform="translate(612.56 380.04) scale(0.9450 1)" font-size="21.2" fill="#000">-0,05</text>
<text transform="translate(623.7 432.68) scale(0.9450 1)" font-size="21.2" fill="#000">-0,1</text>
<text transform="translate(693.64 117.9) scale(0.9560 1)" font-size="21.2" fill="#000" font-weight="bold">Leisure</text>
<text transform="translate(842.39 117.9) scale(1.0095 1)" font-size="21.2" fill="#FF6200" font-weight="bold">Food</text>
<text transform="translate(693.61 141.1) scale(0.9871 1)" font-size="21.2" fill="#0033FF" font-weight="bold">Health</text>
<text transform="translate(845 141.1) scale(0.9651 1)" font-size="21.2" fill="#FFC000" font-weight="bold">Other</text>
<text transform="translate(693.62 164.5) scale(0.9839 1)" font-size="21.2" fill="#008816" font-weight="bold">Internet &amp; teleph.</text>
<text transform="translate(693.62 187.8) scale(0.9803 1)" font-size="21.2" fill="#0000B4" font-weight="bold">Hotels &amp; transport.</text>
<text transform="translate(694 211.8) scale(0.9441 1)" font-size="21.2" fill="#FF9900" font-weight="bold">Auto</text>
<text transform="translate(777.4 211.8) scale(0.9844 1)" font-size="21.2" fill="#707070" font-weight="bold">Total</text>
<text transform="translate(674.33 457.8) scale(0.9240 1)" font-size="21.2" fill="#000">1H</text>
<text transform="translate(671.2 480.6) scale(0.9722 1)" font-size="21.2" fill="#000">Apr</text>
<text transform="translate(734.71 457.8) scale(0.9280 1)" font-size="21.2" fill="#000">2H</text>
<text transform="translate(728.15 480.6) scale(0.9408 1)" font-size="21.2" fill="#000">May</text>
<text transform="translate(795.21 457.8) scale(0.9240 1)" font-size="21.2" fill="#000">1H</text>
<text transform="translate(795.73 480.6) scale(0.9364 1)" font-size="21.2" fill="#000">Jul</text>
<text transform="translate(855.59 457.8) scale(0.9280 1)" font-size="21.2" fill="#000">2H</text>
<text transform="translate(850.82 480.6) scale(0.9590 1)" font-size="21.2" fill="#000">Aug</text>
<text transform="translate(916.09 457.8) scale(0.9240 1)" font-size="21.2" fill="#000">1H</text>
<text transform="translate(912.92 480.6) scale(0.9416 1)" font-size="21.2" fill="#000">Oct</text>
<text transform="translate(976.47 457.8) scale(0.9280 1)" font-size="21.2" fill="#000">2H</text>
<text transform="translate(970.96 480.6) scale(0.9438 1)" font-size="21.2" fill="#000">Nov</text>
<text transform="translate(1036.97 457.8) scale(0.9240 1)" font-size="21.2" fill="#000">1H</text>
<text transform="translate(1034.74 480.6) scale(0.9048 1)" font-size="21.2" fill="#000">Jan</text>
<text transform="translate(1097.35 457.8) scale(0.9280 1)" font-size="21.2" fill="#000">2H</text>
<text transform="translate(1092.83 480.6) scale(0.9503 1)" font-size="21.2" fill="#000">Feb</text>
<text transform="translate(1157.85 457.8) scale(0.9240 1)" font-size="21.2" fill="#000">1H</text>
<text transform="translate(1154.72 480.6) scale(0.9722 1)" font-size="21.2" fill="#000">Apr</text>
<text transform="translate(1021.9 511.5) scale(1.0024 1)" font-size="18.5" fill="#000">Source: INEGI, Itaú</text>
<text transform="translate(1236.05 29.3) scale(1.0482 1)" font-size="22.9" fill="#000" stroke="#000" stroke-width="0.9">Biweekly CPI - Non-food mercandise in 2025-2026</text>
<text transform="translate(1300.08 83.6) scale(1.0154 1)" font-size="18.2" fill="#000" font-style="italic">Contributions</text>
<text transform="translate(1231.33 64.1) scale(0.9450 1)" font-size="21.2" fill="#000">0,15</text>
<text transform="translate(1242.47 139.04) scale(0.9450 1)" font-size="21.2" fill="#000">0,1</text>
<text transform="translate(1231.33 214.78) scale(0.9450 1)" font-size="21.2" fill="#000">0,05</text>
<text transform="translate(1259.16 290.52) scale(0.9450 1)" font-size="21.2" fill="#000">0</text>
<text transform="translate(1224.66 366.26) scale(0.9450 1)" font-size="21.2" fill="#000">-0,05</text>
<text transform="translate(1235.8 442) scale(0.9450 1)" font-size="21.2" fill="#000">-0,1</text>
<text transform="translate(1311.3 357.8) scale(0.9922 1)" font-size="20.9" fill="#000" font-weight="bold">Clothing, shoes and accesories</text>
<text transform="translate(1310.91 380.9) scale(0.9918 1)" font-size="20.9" fill="#FF6200" font-weight="bold">Household appliances</text>
<text transform="translate(1311.3 404.5) scale(0.9868 1)" font-size="20.9" fill="#0033FF" font-weight="bold">Cleaning</text>
<text transform="translate(1484.3 404.5) scale(0.9961 1)" font-size="20.9" fill="#FFC000" font-weight="bold">Medicines</text>
<text transform="translate(1285.23 466.5) scale(0.9240 1)" font-size="21.2" fill="#000">1H</text>
<text transform="translate(1282.1 489.5) scale(0.9722 1)" font-size="21.2" fill="#000">Apr</text>
<text transform="translate(1345.39 466.5) scale(0.9280 1)" font-size="21.2" fill="#000">2H</text>
<text transform="translate(1338.83 489.5) scale(0.9408 1)" font-size="21.2" fill="#000">May</text>
<text transform="translate(1405.67 466.5) scale(0.9240 1)" font-size="21.2" fill="#000">1H</text>
<text transform="translate(1400.64 489.5) scale(0.9400 1)" font-size="21.2" fill="#000">July</text>
<text transform="translate(1465.83 466.5) scale(0.9280 1)" font-size="21.2" fill="#000">2H</text>
<text transform="translate(1461.06 489.5) scale(0.9590 1)" font-size="21.2" fill="#000">Aug</text>
<text transform="translate(1526.11 466.5) scale(0.9240 1)" font-size="21.2" fill="#000">1H</text>
<text transform="translate(1522.94 489.5) scale(0.9416 1)" font-size="21.2" fill="#000">Oct</text>
<text transform="translate(1586.27 466.5) scale(0.9280 1)" font-size="21.2" fill="#000">2H</text>
<text transform="translate(1580.76 489.5) scale(0.9438 1)" font-size="21.2" fill="#000">Nov</text>
<text transform="translate(1646.55 466.5) scale(0.9240 1)" font-size="21.2" fill="#000">1H</text>
<text transform="translate(1644.32 489.5) scale(0.9048 1)" font-size="21.2" fill="#000">Jan</text>
<text transform="translate(1706.71 466.5) scale(0.9280 1)" font-size="21.2" fill="#000">2H</text>
<text transform="translate(1702.19 489.5) scale(0.9503 1)" font-size="21.2" fill="#000">Feb</text>
<text transform="translate(1766.99 466.5) scale(0.9240 1)" font-size="21.2" fill="#000">1H</text>
<text transform="translate(1763.86 489.5) scale(0.9722 1)" font-size="21.2" fill="#000">Apr</text>
<text transform="translate(1631.9 510.8) scale(1.0037 1)" font-size="18.5" fill="#000">Source: INEGI, Itaú</text>
</g>
</svg></body></html>
